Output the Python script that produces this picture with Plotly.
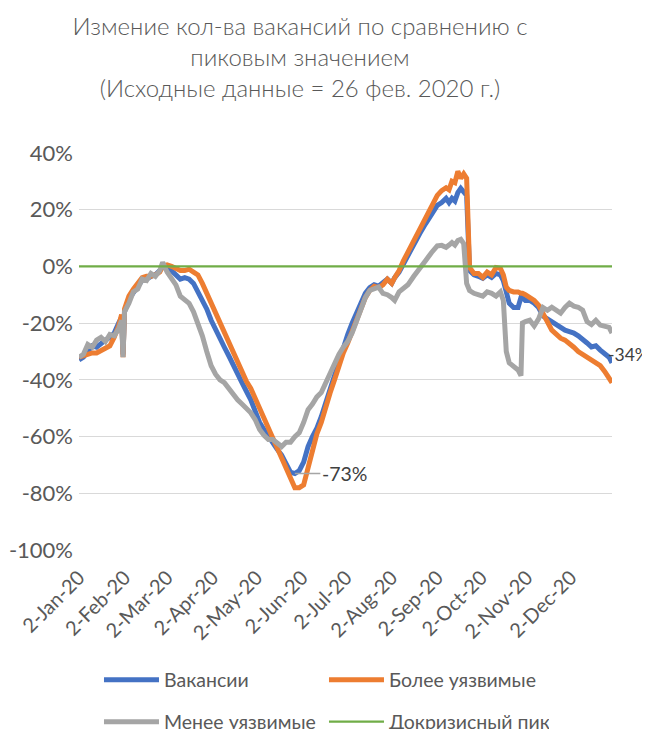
import plotly.graph_objects as go

# ---- data ----
dates = [
    "2020-01-02", "2020-01-05", "2020-01-08", "2020-01-11", "2020-01-14", "2020-01-17",
    "2020-01-20", "2020-01-23", "2020-01-26", "2020-01-29", "2020-01-31", "2020-02-01",
    "2020-02-02", "2020-02-05", "2020-02-08", "2020-02-11", "2020-02-14", "2020-02-17",
    "2020-02-20", "2020-02-23", "2020-02-26", "2020-02-28", "2020-03-02", "2020-03-05",
    "2020-03-08", "2020-03-11", "2020-03-14", "2020-03-17", "2020-03-20", "2020-03-23",
    "2020-03-26", "2020-03-29", "2020-04-01", "2020-04-04", "2020-04-07", "2020-04-10",
    "2020-04-13", "2020-04-16", "2020-04-19", "2020-04-22", "2020-04-25", "2020-04-28",
    "2020-05-01", "2020-05-04", "2020-05-07", "2020-05-10", "2020-05-13", "2020-05-16",
    "2020-05-19", "2020-05-22", "2020-05-25", "2020-05-28", "2020-05-31", "2020-06-03",
    "2020-06-06", "2020-06-09", "2020-06-12", "2020-06-15", "2020-06-18", "2020-06-21",
    "2020-06-24", "2020-06-27", "2020-06-30", "2020-07-03", "2020-07-06", "2020-07-09",
    "2020-07-12", "2020-07-15", "2020-07-18", "2020-07-21", "2020-07-24", "2020-07-27",
    "2020-07-30", "2020-08-02", "2020-08-04", "2020-08-07", "2020-08-10", "2020-08-13",
    "2020-08-17", "2020-08-21", "2020-08-25", "2020-08-29", "2020-09-02", "2020-09-05",
    "2020-09-08", "2020-09-10", "2020-09-12", "2020-09-14", "2020-09-16", "2020-09-18",
    "2020-09-20", "2020-09-22", "2020-09-24", "2020-09-27", "2020-09-30", "2020-10-03",
    "2020-10-06", "2020-10-09", "2020-10-12", "2020-10-15", "2020-10-17", "2020-10-19",
    "2020-10-21", "2020-10-24", "2020-10-27", "2020-10-29", "2020-10-30", "2020-11-01",
    "2020-11-04", "2020-11-07", "2020-11-10", "2020-11-13", "2020-11-16", "2020-11-19",
    "2020-11-22", "2020-11-25", "2020-11-28", "2020-12-01", "2020-12-04", "2020-12-07",
    "2020-12-10", "2020-12-13", "2020-12-16", "2020-12-19", "2020-12-22", "2020-12-25",
    "2020-12-28", "2020-12-30",
]

vacancies = [
    -33, -32, -30, -28, -28.5, -27, -26, -25, -23.5, -20, -18, -31,
    -16, -11.5, -9, -7, -5, -4.5, -3.5, -3, -1.5, 0, -1, -1.5,
    -3, -4.5, -4, -4.5, -6, -9, -12, -15, -19, -22.5, -25.5, -28.5,
    -31.5, -35, -38, -41, -44, -47, -51, -55, -57.5, -60, -62, -64.5,
    -66.5, -69.5, -72.5, -73, -72, -69, -63.5, -60, -57, -53, -48, -44,
    -38, -33, -28, -24, -20, -16.5, -13.5, -9.5, -7.5, -6.5, -7, -5.5,
    -4.5, -6, -4, -2, 1, 4, 8, 11.5, 15, 18.5, 21.5, 22.5,
    24, 22.5, 24, 23, 26, 27.5, 26, 25, -1.5, -3, -3.5, -4.2,
    -3, -3.9, -2.5, -3, -5, -8.4, -13, -14.5, -14.5, -11, -11, -12,
    -12, -13, -14.5, -17.5, -18.5, -20, -21, -22, -22.5, -23, -23.5, -24.5,
    -25.5, -27, -28.4, -28, -29.5, -30.5, -32, -34,
]

more_vulnerable = [
    -32, -31.5, -31, -30.5, -30.5, -29.5, -28.5, -28, -25, -21, -17, -32,
    -15, -10.5, -8, -6, -4, -3.5, -3.5, -3, -2, 0, 0.5, 0,
    -1, -1.5, -1.5, -1, -2, -3, -6, -9.5, -13, -16.5, -20, -23.5,
    -27, -30.5, -34, -37.5, -40.5, -43, -46.5, -50, -53, -57, -60, -63.5,
    -67.5, -71, -75, -78, -78, -77, -71, -65, -59, -55, -49, -44.6,
    -40, -35, -30.5, -27, -23, -19.5, -15.4, -11, -8.5, -7, -7.5, -6.5,
    -4.5, -6, -4, -1.5, 2, 5, 9, 13, 17, 21.5, 25, 26.7,
    27.7, 27, 30, 29.5, 33.5, 31, 32.6, 31, -0.4, -2.5, -2.5, -3.9,
    -2, -3, -0.4, -0.7, -3, -7.3, -8.5, -9, -9, -9.5, -9.5, -10,
    -11, -12, -13.7, -17, -19.5, -22.5, -24, -25.3, -26, -27, -28.5, -30,
    -31, -32, -33, -33.5, -35, -37, -39, -41,
]

less_vulnerable = [
    -32, -31, -27.5, -28.5, -26, -25, -26.5, -24, -24.5, -22, -19, -32,
    -16, -13, -9, -8, -4.5, -5, -2.5, -3.5, -1.5, 1.4, -2, -4.5,
    -6.5, -10.5, -11.5, -13, -16, -20, -24.5, -30, -35, -38, -40, -41,
    -43, -45.5, -47, -48.5, -50, -51.6, -54, -57.5, -59.5, -61, -61, -62.5,
    -63.5, -62, -62, -60, -58.6, -55, -50.5, -48.5, -46, -44.5, -41, -38,
    -35, -31, -28.5, -26.5, -23.5, -19, -15, -11, -8.5, -8, -7.3, -9.5,
    -10, -11, -12, -9, -7.7, -6.5, -3.5, -1, 2, 4.8, 7.2, 7.4,
    6.7, 7.5, 8.4, 7.5, 9.1, 9.5, 8, -6, -8.5, -9.5, -10, -10.5,
    -9, -9.5, -10.5, -9, -12, -30, -34, -35.4, -36.5, -38.5, -20, -19.5,
    -19, -21, -18.5, -14.5, -15.5, -14.4, -15.5, -16.5, -14.5, -13, -14, -14.4,
    -15.4, -19.5, -20.5, -19, -20.7, -21, -21.5, -23.5,
]

precrisis_peak_level = 0  # "Докризисный пик" reference level

tick_dates = [
    "2020-01-02", "2020-02-02", "2020-03-02", "2020-04-02", "2020-05-02", "2020-06-02",
    "2020-07-02", "2020-08-02", "2020-09-02", "2020-10-02", "2020-11-02", "2020-12-02",
]
tick_labels = [
    "2-Jan-20", "2-Feb-20", "2-Mar-20", "2-Apr-20", "2-May-20", "2-Jun-20",
    "2-Jul-20", "2-Aug-20", "2-Sep-20", "2-Oct-20", "2-Nov-20", "2-Dec-20",
]
y_ticks = [40, 20, 0, -20, -40, -60, -80, -100]
y_tick_labels = ["40%", "20%", "0%", "-20%", "-40%", "-60%", "-80%", "-100%"]

series_names = ["Вакансии", "Более уязвимые", "Менее уязвимые", "Докризисный пик"]

# ---- styles ----
FONT = "Lato, 'Open Sans', sans-serif"
TXT = "#595959"
BLUE, ORANGE, GRAY, GREEN = "#4472C4", "#ED7D31", "#A5A5A5", "#70AD47"
W, H = 642, 721  # page body has an 8px margin; keep the figure inside the 650x729 window

fig = go.Figure()
fig.add_trace(go.Scatter(x=dates, y=vacancies, name=series_names[0], mode="lines",
                         line=dict(color=BLUE, width=5), legend="legend"))
fig.add_trace(go.Scatter(x=dates, y=more_vulnerable, name=series_names[1], mode="lines",
                         line=dict(color=ORANGE, width=5), legend="legend"))
fig.add_trace(go.Scatter(x=dates, y=less_vulnerable, name=series_names[2], mode="lines",
                         line=dict(color=GRAY, width=5), legend="legend2"))
fig.add_trace(go.Scatter(x=dates, y=[precrisis_peak_level] * len(dates), name=series_names[3],
                         mode="lines", line=dict(color=GREEN, width=2.25), legend="legend2"))

# data labels: minimum of "Вакансии" and its last value
i_min = min(range(len(vacancies)), key=lambda i: vacancies[i])
fig.add_annotation(x=dates[i_min], y=vacancies[i_min], text=f"{vacancies[i_min]:.0f}%",
                   showarrow=True, arrowhead=0, arrowwidth=1.5, arrowcolor=GRAY,
                   ax=50, ay=0, standoff=0, font=dict(family=FONT, size=19.5, color="#404040"))
fig.add_annotation(x=dates[-1], y=vacancies[-1], text=f"{vacancies[-1]:.0f}%",
                   showarrow=False, xanchor="left", xshift=-6, yshift=8,
                   font=dict(family=FONT, size=17.5, color="#404040"))

legend_common = dict(orientation="h", xanchor="left", yanchor="middle",
                     entrywidth=155, entrywidthmode="pixels", itemwidth=55,
                     font=dict(family=FONT, size=19.5, color=TXT), bgcolor="rgba(0,0,0,0)")

fig.update_layout(
    width=W, height=H, autosize=False,
    margin=dict(l=71, r=38, t=144, b=178, autoexpand=False),
    paper_bgcolor="white", plot_bgcolor="white",
    font=dict(family=FONT, color=TXT),
    title=dict(text="Измение кол-ва вакансий по сравнению с<br>пиковым значением<br>"
                    "(Исходные данные = 26 фев. 2020 г.)",
               x=292 / W, xref="container", xanchor="center",
               y=1 - 27 / H, yref="container", yanchor="top",
               font=dict(family=FONT, size=24, color=TXT, weight=300)),
    xaxis=dict(type="date", range=["2020-01-02", "2020-12-30"],
               tickmode="array", tickvals=tick_dates, ticktext=tick_labels,
               tickangle=-45, showgrid=False, zeroline=False, showline=False,
               ticks="", ticklabelstandoff=10,
               tickfont=dict(family=FONT, size=20, color=TXT)),
    yaxis=dict(range=[-100.3, 40.3], tickmode="array", tickvals=y_ticks,
               ticktext=y_tick_labels, showgrid=True, gridcolor="#D9D9D9", gridwidth=1,
               zeroline=False, showline=False, ticks="", ticklabelstandoff=5,
               tickfont=dict(family=FONT, size=22, color=TXT)),
    legend=dict(x=0.0375, y=-0.3233, **legend_common),
    legend2=dict(x=0.0375, y=-0.4286, **legend_common),
)

fig.write_html("out.html")
